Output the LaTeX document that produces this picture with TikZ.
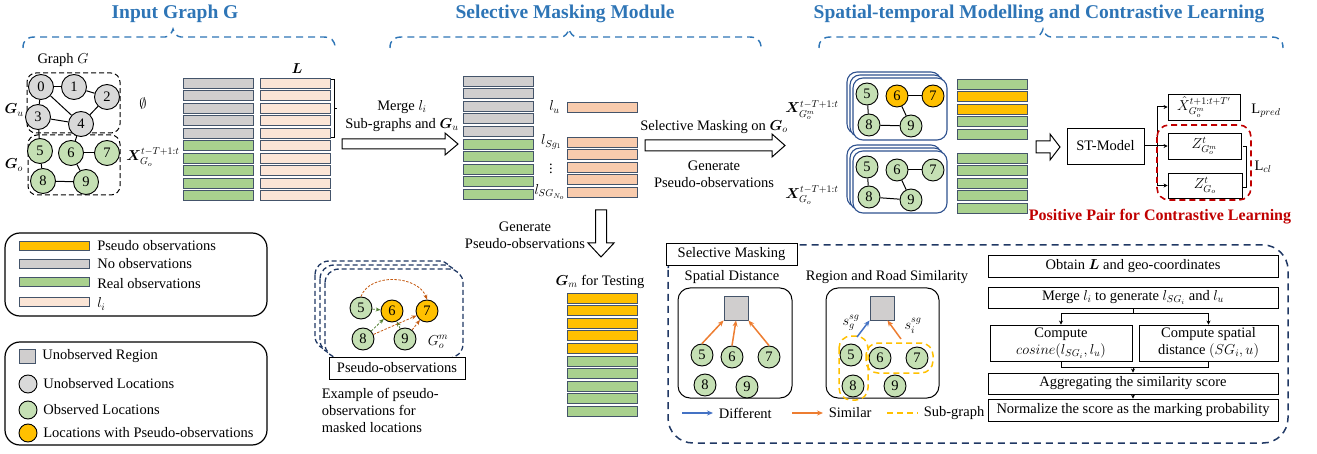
\documentclass[tikz,border=0pt]{standalone}
\usepackage{amsmath,amssymb}
\usepackage{bm}
\usepackage{fontspec}
\setmainfont{Liberation Serif}
\usetikzlibrary{arrows.meta,positioning,shapes}
\definecolor{titleblue}{HTML}{2E75B6}
\definecolor{barline}{HTML}{44546A}
\definecolor{nogray}{HTML}{D0CECE}
\definecolor{realgreen}{HTML}{A9D18E}
\definecolor{pseudoorange}{HTML}{FFC000}
\definecolor{lpeach}{HTML}{FBE5D6}
\definecolor{lsalmon}{HTML}{F8CBAD}
\definecolor{locgreen}{HTML}{C5E0B4}
\definecolor{locgray}{HTML}{D9D9D9}
\definecolor{cardblue}{HTML}{2F528F}
\definecolor{navy}{HTML}{203864}
\definecolor{simorange}{HTML}{ED7D31}
\definecolor{diffblue}{HTML}{4472C4}
\definecolor{pairred}{HTML}{C00000}
\definecolor{darkgreen}{HTML}{548235}
\definecolor{darkorange}{HTML}{C55A11}

\begin{document}
\begin{tikzpicture}[x=1pt, y=-1pt, line width=1pt,
  >={Stealth[length=6pt,width=5pt]},
  font=\fontsize{14.5}{17}\selectfont,
  title/.style={font=\fontsize{19.5}{22}\selectfont\bfseries, text=titleblue},
  brace/.style={titleblue, line width=1.4pt, dash pattern=on 7pt off 5pt},
  loc/.style={circle, draw=black, line width=0.9pt, minimum size=22, inner sep=0},
  uloc/.style={loc, fill=locgray},
  oloc/.style={loc, fill=locgreen},
  ploc/.style={loc, fill=pseudoorange},
  bar/.style={draw=barline, line width=0.9pt, minimum width=70, minimum height=10, inner sep=0},
  region/.style={draw=barline, fill=nogray, line width=0.9pt, minimum size=24, inner sep=0},
  box/.style={draw, line width=0.9pt, inner sep=1pt},
  card/.style={draw=cardblue, fill=white, line width=1.1pt, rounded corners=10},
  hollow/.style={draw, fill=white, line width=1pt},
  legbox/.style={draw, line width=1.2pt, rounded corners=15},
  subg/.style={pseudoorange, line width=1.5pt, dash pattern=on 6pt off 4pt},
  simarrow/.style={->, simorange, line width=1.5pt},
  diffarrow/.style={->, diffblue, line width=1.5pt},
  pgreen/.style={->, darkgreen, line width=0.8pt, dash pattern=on 2.5pt off 1.5pt, >={Stealth[length=5pt,width=4pt]}},
  porange/.style={->, darkorange, line width=0.8pt, dash pattern=on 2.5pt off 1.5pt, >={Stealth[length=5pt,width=4pt]}},
  flow/.style={->, >={Stealth[length=4pt,width=4pt]}}]
\useasboundingbox (0,0) rectangle (1317,454);

\node[title] (t1) at (175,14) {Input Graph G};
\node[title] (t2) at (565,14) {Selective Masking Module};
\node[title] (t3) at (1039,14) {Spatial-temporal Modelling and Contrastive Learning};
\foreach \a/\m/\b in {23/173/335, 390/569/761, 819/1043/1283}
  \draw[brace] (\a,48) .. controls (\a,40) and ({\a+4},37) .. ({\a+12},37) -- ({\m-8},37)
    .. controls ({\m-4},37) and ({\m-1},33) .. (\m,29)
    .. controls ({\m+1},33) and ({\m+4},37) .. ({\m+8},37) -- ({\b-12},37)
    .. controls ({\b-4},37) and (\b,40) .. (\b,48);

\node (gname) at (63,60) {Graph $G$};
\draw[dash pattern=on 5pt off 3pt, rounded corners=9] (27,73) rectangle (120,133);
\draw[dash pattern=on 5pt off 3pt, rounded corners=9] (28,135) rectangle (120,195);
\node[uloc, minimum size=25] (g0) at (41,87) {0};
\node[uloc, minimum size=25] (g1) at (74,87) {1};
\node[uloc, minimum size=25] (g2) at (107,97) {2};
\node[uloc, minimum size=25] (g3) at (38,117) {3};
\node[uloc, minimum size=25] (g4) at (81,124) {4};
\node[oloc, minimum size=25] (g5) at (40,151) {5};
\node[oloc, minimum size=25] (g6) at (71,153) {6};
\node[oloc, minimum size=25] (g7) at (107,153) {7};
\node[oloc, minimum size=25] (g8) at (43,181) {8};
\node[oloc, minimum size=25] (g9) at (86,182) {9};
\foreach \a/\b in {0/1,0/3,0/4,1/2,2/4,3/4,3/5,4/6,5/8,6/7,6/9,8/9}
  \draw (g\a) -- (g\b);
\node (gu) at (14,110) {$\bm{G}_u$};
\node (go) at (14,165) {$\bm{G}_o$};
\node (empty) at (143,104) {$\emptyset$};
\node (xin) at (153,157) {$\bm{X}^{t-T+1:t}_{G_o}$};

\foreach \c [count=\i from 0] in {nogray,nogray,nogray,nogray,nogray,realgreen,realgreen,realgreen,realgreen,realgreen}
  \node[bar, fill=\c] (in\i) at (218,{83+12.5*\i}) {};
\foreach \i in {0,...,9}
  \node[bar, fill=lpeach] (l\i) at (295,{83+12.5*\i}) {};
\node (lhead) at (297,69) {$\bm{L}$};
\draw[line width=0.8pt] (331,79) -- (334,79) -- (334,137) -- (331,137);
\draw[line width=0.8pt] (334,108) -- (337,108);

\draw[hollow] (342,139) -- (445,139) -- (445,133) -- (458,144) -- (445,155) -- (445,149) -- (342,149) -- cycle;
\node (merge) at (402,107) {Merge $l_i$};
\node (subgr) at (402,125) {Sub-graphs and $\bm{G}_u$};

\foreach \c [count=\i from 0] in {nogray,nogray,nogray,nogray,nogray,realgreen,realgreen,realgreen,realgreen,realgreen}
  \node[bar, fill=\c] (mid\i) at (498,{81+12.6*\i}) {};
\node[bar, fill=lsalmon] (lu) at (602,107) {};
\foreach \i in {0,...,4}
  \node[bar, fill=lsalmon] (lsg\i) at (602,{142+12.5*\i}) {};
\node[left=3pt of lu] (lulab) {$l_u$};
\node[left=1pt of lsg0] (lsglab) {$l_{Sg_1}$};
\node (vdots) at (551,166) {$\vdots$};
\node[left=0pt of lsg4, inner xsep=1pt] (lsgnlab) {$l_{SG_{N_o}}$};

\draw[hollow] (645,140) -- (772,140) -- (772,134) -- (785,145.5) -- (772,157) -- (772,151) -- (645,151) -- cycle;
\node (selon) at (714,127) {Selective Masking on $\bm{G}_o$};
\node[align=center] (gen1) at (714,174) {Generate\\Pseudo-observations};

\draw[hollow] (595.5,210) -- (606.5,210) -- (606.5,243) -- (614,243) -- (601,257) -- (588,243) -- (595.5,243) -- cycle;
\node[align=center] (gen2) at (525,235) {Generate\\Pseudo-observations};
\node (gm) at (600,282) {$\bm{G}_m$ for Testing};
\foreach \c [count=\i from 0] in {pseudoorange,pseudoorange,pseudoorange,pseudoorange,pseudoorange,realgreen,realgreen,realgreen,realgreen,realgreen}
  \node[bar, fill=\c] (test\i) at (602,{298+12.6*\i}) {};

\foreach \d in {6,3,0} {
  \draw[card] ({853-\d},{78-\d}) rectangle ({947-\d},{140-\d});
  \draw[card] ({853-\d},{151-\d}) rectangle ({947-\d},{213-\d});
}
\node[oloc] (m5) at (867,94) {5};
\node[ploc] (m6) at (897,96) {6};
\node[ploc] (m7) at (933,96) {7};
\node[oloc] (m8) at (869,125) {8};
\node[oloc] (m9) at (911,126) {9};
\node[oloc] (o5) at (867,167) {5};
\node[oloc] (o6) at (897,170) {6};
\node[oloc] (o7) at (933,170) {7};
\node[oloc] (o8) at (869,197) {8};
\node[oloc] (o9) at (911,200) {9};
\foreach \a/\b in {5/8,6/7,6/9,8/9} {
  \draw (m\a) -- (m\b);
  \draw (o\a) -- (o\b);
}
\node[inner xsep=1pt] (xm) at (812,110) {$\bm{X}^{t-T+1:t}_{G_o^m}$};
\node[inner xsep=1pt] (xo) at (812,195) {$\bm{X}^{t-T+1:t}_{G_o}$};
\foreach \c [count=\i from 0] in {realgreen,pseudoorange,pseudoorange,realgreen,realgreen}
  \node[bar, fill=\c] (rm\i) at (992,{84+12.5*\i}) {};
\foreach \i in {0,...,4}
  \node[bar, fill=realgreen] (ro\i) at (992,{158+12.5*\i}) {};

\draw[hollow] (1036,141) -- (1050,141) -- (1050,134) -- (1060,147) -- (1050,160) -- (1050,153) -- (1036,153) -- cycle;
\node[box, minimum width=77, minimum height=36] (st) at (1105.5,146) {ST-Model};
\node[box, minimum width=72, minimum height=26, inner sep=0pt] (xhat) at (1204,107) {$\hat{X}^{t+1:t+T'}_{G_o^m}$};
\node[box, minimum width=73, minimum height=26] (zm) at (1204.5,146) {$Z^t_{G_o^m}$};
\node[box, minimum width=74, minimum height=25] (zo) at (1205,185.5) {$Z^t_{G_o}$};
\coordinate (br) at (1157,146);
\draw (st.east) -- (br);
\draw[flow] (br) |- (xhat.west);
\draw[flow] (br) -- (zm.west);
\draw[flow] (br) |- (zo.west);
\node (lpred) at (1266,111) {$\mathrm{L}_{pred}$};
\draw[line width=0.8pt] (1243,146) -- (1246,146) -- (1246,187) -- (1243,187);
\node (lcl) at (1263,167) {$\mathrm{L}_{cl}$};
\draw[pairred, line width=1.6pt, dash pattern=on 6pt off 4pt, rounded corners=12] (1157,125) rectangle (1251,200);
\node[font=\fontsize{16}{19}\selectfont\bfseries, text=pairred] (pospair) at (1160,217) {Positive Pair for Contrastive Learning};

\draw[legbox] (5,233) rectangle (267,316);
\node[bar, fill=pseudoorange, minimum height=9] (lg0) at (54,246) {};
\node[bar, fill=nogray, minimum height=9] (lg1) at (54,264) {};
\node[bar, fill=realgreen, minimum height=9] (lg2) at (54,282) {};
\node[bar, fill=lpeach, minimum height=9] (lg3) at (54,302) {};
\node[right=4pt of lg0] (lgt0) {Pseudo observations};
\node[right=4pt of lg1] (lgt1) {No observations};
\node[right=4pt of lg2, yshift=-2] (lgt2) {Real observations};
\node[right=4pt of lg3, yshift=-2] (lgt3) {$l_i$};

\draw[legbox] (5,342) rectangle (267,445);
\node[region, minimum width=16, minimum height=14] (lr0) at (27,356) {};
\node[uloc, minimum size=18] (lr1) at (28,384) {};
\node[oloc, minimum size=18] (lr2) at (28,410) {};
\node[ploc, minimum size=18] (lr3) at (28,433) {};
\node[right=3pt of lr0] (lrt0) {Unobserved Region};
\node[right=2pt of lr1] (lrt1) {Unobserved Locations};
\node[right=2pt of lr2] (lrt2) {Observed Locations};
\node[right=2pt of lr3] (lrt3) {Locations with Pseudo-observations};

\foreach \d in {10,5,0}
  \draw[navy, fill=white, line width=1.3pt, dash pattern=on 5pt off 3pt, rounded corners=14] ({325-\d},{269-0.8*\d}) rectangle ({463-\d},{358-0.8*\d});
\node[oloc] (p5) at (361,308) {5};
\node[ploc] (p6) at (392,311) {6};
\node[ploc] (p7) at (427,311) {7};
\node[oloc] (p8) at (363,339) {8};
\node[oloc] (p9) at (405,339) {9};
\draw[porange] (p5.north) to[out=70, in=110] (p7.north);
\draw[pgreen] (p5) -- (p6);
\draw[pgreen] (p8) -- (p6);
\draw[pgreen] (p9) -- (p6);
\draw[porange] (p8) -- (p7);
\draw[porange] (p9) -- (p7);
\node (pgom) at (438,342) {$G_o^m$};
\node[box, fill=white, minimum width=136, minimum height=22] (pobs) at (397,368) {Pseudo-observations};
\node[align=left, anchor=north west] (pex) at (318,384) {Example of pseudo-\\observations for\\masked locations};

\draw[navy, line width=1.5pt, dash pattern=on 7pt off 5pt, rounded corners=25] (668,245) rectangle (1288,443);
\node[box, fill=white, minimum width=131, minimum height=22] (smlabel) at (731.5,254) {Selective Masking};
\node (spd) at (732,277) {Spatial Distance};
\draw[rounded corners=12] (678,288) rectangle (792,398);
\node[region] (sq1) at (736,308) {};
\node[oloc] (s5) at (702,355) {5};
\node[oloc] (s6) at (732,357) {6};
\node[oloc] (s7) at (769,357) {7};
\node[oloc] (s8) at (705,385) {8};
\node[oloc] (s9) at (747,387) {9};
\draw[simarrow] (s5.north) -- (sq1.south west);
\draw[simarrow] (s6.north) -- (sq1.south);
\draw[simarrow] (s7.north) -- (sq1.south east);

\node (rrs) at (887,277) {Region and Road Similarity};
\draw[rounded corners=12] (826,288) rectangle (939,398);
\node[region] (sq2) at (882,308) {};
\node[oloc] (r5) at (851,355) {5};
\node[oloc] (r6) at (880,358) {6};
\node[oloc] (r7) at (917,358) {7};
\node[oloc] (r8) at (853,386) {8};
\node[oloc] (r9) at (895,386) {9};
\draw[subg, rounded corners=12] (839,336) rectangle (868,400);
\draw[subg, rounded corners=12] (866,343) rectangle (933,373);
\coordinate (sgg) at (857,337);
\coordinate (sgi) at (901,339);
\draw[diffarrow] (sgg) -- (sq2.south west);
\draw[simarrow] (sgi) -- ([xshift=-7pt]sq2.south east);
\node[inner sep=1pt] (sglab) at (851,323) {$s_g^{sg}$};
\node[inner sep=1pt] (silab) at (913,326) {$s_i^{sg}$};

\coordinate (db1) at (682,413);
\coordinate (db2) at (713,413);
\coordinate (sb1) at (792,413);
\coordinate (sb2) at (823,413);
\coordinate (yb1) at (887,413);
\coordinate (yb2) at (918,413);
\draw[diffarrow] (db1) -- (db2);
\draw[simarrow] (sb1) -- (sb2);
\draw[subg] (yb1) -- (yb2);
\node[right=2pt of db2] (difft) {Different};
\node[right=2pt of sb2] (simt) {Similar};
\node[right=2pt of yb2] (subt) {Sub-graph};

\node[box, minimum width=290, minimum height=22] (fb1) at (1133,266) {Obtain $\bm{L}$ and geo-coordinates};
\node[box, minimum width=290, minimum height=21] (fb2) at (1133,297.5) {Merge $l_i$ to generate $l_{SG_i}$ and $l_u$};
\node[box, minimum width=142, minimum height=36, align=center] (fb3) at (1061,343) {Compute\\$cosine(l_{SG_i},l_u)$};
\node[box, minimum width=139, minimum height=36, align=center] (fb4) at (1208.5,343) {Compute spatial\\distance $(SG_i,u)$};
\node[box, minimum width=290, minimum height=21] (fb5) at (1133,383.5) {Aggregating the similarity score};
\node[box, minimum width=290, minimum height=22] (fb6) at (1133,410) {Normalize the score as the marking probability};
\coordinate (split) at (1133,314);
\coordinate (join) at (1133,367);
\draw (fb2.south) -- (split);
\draw[flow] (split) -| (fb3.north);
\draw[flow] (split) -| (fb4.north);
\draw (fb3.south) |- (join);
\draw (fb4.south) |- (join);
\draw[flow] (join) -- (fb5.north);
\draw[flow] (fb5.south) -- (fb6.north);
\end{tikzpicture}
\end{document}
